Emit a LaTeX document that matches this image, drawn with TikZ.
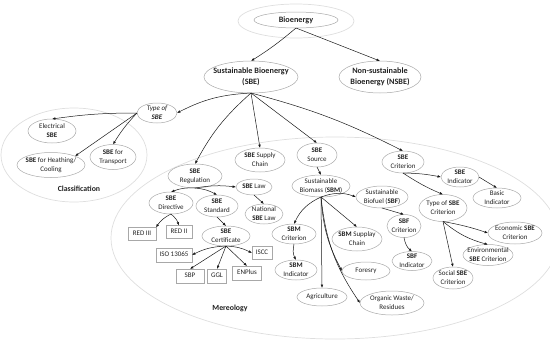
\documentclass[tikz,border=0pt]{standalone}
\usepackage{fontspec}
\setmainfont{Carlito}
\usetikzlibrary{shapes.geometric,arrows.meta}
\definecolor{ellgray}{HTML}{A8A8A8}
\definecolor{areagray}{HTML}{DEDEDE}
\definecolor{txt}{HTML}{222222}
\newcommand{\tb}[1]{\makebox[0pt]{\raisebox{-0.25em}[0pt][0pt]{\begin{tabular}{@{}c@{}}#1\end{tabular}}}}
\tikzset{
  el/.style 2 args={ellipse, draw=ellgray, line width=0.5pt, minimum width=#1pt, minimum height=#2pt, inner sep=0pt, outer sep=0pt, text=txt, font=\fontsize{7}{9.3}\selectfont},
  bigel/.style 2 args={el={#1}{#2}, font=\fontsize{8.2}{10.5}\selectfont\bfseries},
  bx/.style 2 args={rectangle, draw=ellgray, line width=0.5pt, minimum width=#1pt, minimum height=#2pt, inner sep=0pt, outer sep=0pt, text=txt, font=\fontsize{7}{9}\selectfont},
  arr/.style={-{Latex[length=3.4pt,width=2.6pt]}, line width=0.5pt, draw=black!90},
  area/.style={draw=areagray, line width=0.7pt},
  arealabel/.style={text=txt, font=\fontsize{7.8}{9}\selectfont\bfseries},
}
\begin{document}
\begin{tikzpicture}[x=1pt,y=-1pt]
\useasboundingbox (0,0) rectangle (550,341);
% areas
\draw[area] (296,21) ellipse (58pt and 17pt);
\draw[area] (74,155) ellipse (73pt and 47pt);
\draw[area] (335,238) ellipse (224pt and 101pt);
\node[arealabel] (lclass) at (79,189) {Classification};
\node[arealabel] (lmer) at (230,308) {Mereology};
% top
\node[bigel={84}{16}] (bio) at (296,20) {\tb{Bioenergy}};
\node[bigel={94}{32}] (sbe) at (251,77) {\tb{Sustainable Bioenergy\\(SBE)}};
\node[bigel={82}{32}] (nsbe) at (380,77) {\tb{Non-sustainable\\Bioenergy (NSBE)}};
% classification
\node[el={40}{20}] (type) at (157,113) {\tb{\itshape Type of\\\bfseries\itshape SBE}};
\node[el={48}{24}] (elec) at (52,131) {\tb{Electrical\\\textbf{SBE}}};
\node[el={68}{25}] (heat) at (51,165) {\tb{\textbf{SBE} for Heathing/\\Cooling}};
\node[el={46}{25}] (trans) at (113,157) {\tb{\textbf{SBE} for\\Transport}};
% mereology level 1
\node[el={54}{24}] (reg) at (195,176) {\tb{\textbf{SBE}\\Regulation}};
\node[el={50}{24}] (supply) at (260,160) {\tb{\textbf{SBE} Supply\\Chain}};
\node[el={40}{24}] (source) at (317,155) {\tb{\textbf{SBE}\\Source}};
\node[el={42}{22}] (crit) at (403,162) {\tb{\textbf{SBE}\\Criterion}};
% regulation branch
\node[el={36}{16}] (law) at (254,187) {\tb{\textbf{SBE} Law}};
\node[el={44}{22}] (dir) at (171,203) {\tb{\textbf{SBE}\\Directive}};
\node[el={42}{22}] (std) at (217,206) {\tb{\textbf{SBE}\\Standard}};
\node[el={38}{20}] (natl) at (264,214) {\tb{National\\\textbf{SBE} Law}};
\node[bx={28}{13}] (red3) at (142,234) {\tb{RED III}};
\node[bx={26}{13}] (red2) at (179,232) {\tb{RED II}};
\node[el={48}{20}] (cert) at (226,236) {\tb{\textbf{SBE}\\Certificate}};
\node[bx={36}{14}] (iso) at (174,255) {\tb{ISO 13065}};
\node[bx={20}{13}] (iscc) at (262,253) {\tb{ISCC}};
\node[bx={28}{14}] (sbp) at (190,276) {\tb{SBP}};
\node[bx={19}{14}] (ggl) at (217,276) {\tb{GGL}};
\node[bx={29}{14}] (enp) at (247,273) {\tb{ENPlus}};
% source branch
\node[el={58}{22}] (sbm) at (321,186) {\tb{Sustainable\\Biomass (\textbf{SBM})}};
\node[el={52}{22}] (sbf) at (382,197) {\tb{Sustainable\\Biofuel (\textbf{SBF})}};
\node[el={44}{20}] (sbmc) at (294,234) {\tb{\textbf{SBM}\\Criterion}};
\node[el={42}{20}] (sbmi) at (296,270) {\tb{\textbf{SBM}\\Indicator}};
\node[el={50}{18}] (agri) at (322,297) {\tb{Agriculture}};
\node[el={50}{24}] (sbmsc) at (357,239) {\tb{\textbf{SBM} Supplay\\Chain}};
\node[el={48}{18}] (fore) at (366,271) {\tb{Foresry}};
\node[el={64}{24}] (org) at (392,303) {\tb{Organic Waste/\\Residues}};
\node[el={34}{23}] (sbfc) at (404,226) {\tb{\textbf{SBF}\\Criterion}};
\node[el={40}{19}] (sbfi) at (412,261) {\tb{\textbf{SBF}\\Indicator}};
% criterion branch
\node[el={38}{20}] (sbei) at (460,177) {\tb{\textbf{SBE}\\Indicator}};
\node[el={48}{20}] (basic) at (497,198) {\tb{Basic\\Indicator}};
\node[el={48}{27}] (tsc) at (443,208) {\tb{Type of \textbf{SBE}\\Criterion}};
\node[el={54}{22}] (eco) at (515,233) {\tb{Economic \textbf{SBE}\\Criterion}};
\node[el={50}{21}] (env) at (488,255) {\tb{Environmental\\\textbf{SBE} Criterion}};
\node[el={40}{22}] (soc) at (453,278) {\tb{Social \textbf{SBE}\\Criterion}};
% connectors
\draw[arr] (bio.south) to[bend left=4] (sbe.north);
\draw[arr] (bio.south) -- (nsbe.north);
\draw[arr] (sbe.south) to[bend right=12] (type.east);
\draw[arr] (sbe.south) to[bend right=10] (reg.north);
\draw[arr] (sbe.south) -- (supply.north);
\draw[arr] (sbe.south) -- (source.north);
\draw[arr] (sbe.south) to[bend left=6] (crit.north);
\draw[arr] (type.west) to[bend right=4] (elec.north);
\draw[arr] (type.west) -- (heat.north east);
\draw[arr] (type.west) to[bend right=6] (trans.north);
\draw[arr] (reg.south) to[bend right=12] (dir.north);
\draw[arr] (reg.south) to[bend left=12] (std.north);
\draw[arr] (reg.south) to[bend left=8] (law.west);
\draw[arr] (law.south) -- (natl.north);
\draw[arr] (dir.south) to[bend right=15] (red3.north east);
\draw[arr] (dir.south) to[bend left=15] (red2.north);
\draw[arr] (std.south) -- (cert.north);
\draw[arr] (cert.south) to[bend right=12] (iso.east);
\draw[arr] (cert.south) to[bend left=12] (iscc.west);
\draw[arr] (cert.south) -- (sbp.north);
\draw[arr] (cert.south) -- (ggl.north);
\draw[arr] (cert.south) -- (enp.north);
\draw[arr] (source.south) -- (sbm.north);
\draw[arr] (sbm.south) to[bend left=20] (sbf.west);
\draw[arr] (sbm.south) to[bend right=20] (sbmc.north);
\draw[arr] (sbm.south) -- (sbmsc.north);
\draw[arr] (sbm.south) to[bend right=12] (fore.west);
\draw[arr] (sbm.south) -- (agri.north);
\draw[arr] (sbm.south) to[bend right=14] (org.west);
\draw[arr] (sbmc.south) to[bend right=20] (sbmi.north);
\draw[arr] (sbf.south) -- (sbfc.north);
\draw[arr] (sbfc.south) to[bend right=20] (sbfi.north);
\draw[arr] (crit.south) to[bend left=5] (sbei.west);
\draw[arr] (crit.south) to[bend right=5] (tsc.north);
\draw[arr] (sbei.east) -- (basic.north);
\draw[arr] (tsc.south) to[bend left=4] (eco.west);
\draw[arr] (tsc.south) to[bend right=12] (env.north);
\draw[arr] (tsc.south) -- (soc.north);
\end{tikzpicture}
\end{document}
